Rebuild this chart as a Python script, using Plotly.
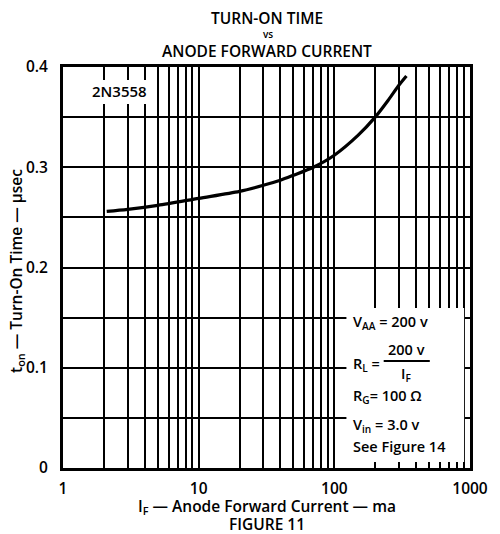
import plotly.graph_objects as go

# Data
current_ma = [2.1, 3, 5, 10, 20, 30, 40, 50, 70, 100, 150, 200, 250, 300, 340]
turn_on_us = [0.256, 0.258, 0.262, 0.269, 0.276, 0.282, 0.287, 0.292, 0.300,
              0.312, 0.332, 0.350, 0.367, 0.382, 0.391]

x_grid = [m * 10 ** d for d in range(3) for m in range(1, 10)] + [1000]
x_labels = {1: "1", 10: "10", 100: "100", 1000: "1000"}
y_grid = [0, 0.05, 0.1, 0.15, 0.2, 0.25, 0.3, 0.35, 0.4]
y_labels = {0: "0", 0.1: "0.1", 0.2: "0.2", 0.3: "0.3", 0.4: "0.4"}

FONT = "Open Sans"
INK = "black"
OFF = 8  # page body margin offset

fig = go.Figure()
fig.add_trace(go.Scatter(
    x=current_ma, y=turn_on_us, mode="lines",
    line=dict(color=INK, width=3.2, shape="spline", smoothing=0.8),
    hoverinfo="skip", showlegend=False))

W0, W1 = 63, 478
H0, H1 = 468, 67

fig.update_layout(
    width=500 - OFF, height=534 - OFF,
    margin=dict(l=W0 - OFF, r=500 - W1, t=H1 - OFF, b=534 - H0, pad=0),
    paper_bgcolor="white", plot_bgcolor="white",
    font=dict(family=FONT, color=INK, size=14),
    xaxis=dict(
        type="log", range=[0, 3],
        tickvals=x_grid,
        ticktext=[x_labels.get(v, "") for v in x_grid],
        showgrid=True, gridcolor=INK, gridwidth=2.2,
        showline=True, linecolor=INK, linewidth=3, mirror=True,
        ticks="", zeroline=False, ticklabelstandoff=4,
        tickfont=dict(family=FONT, size=15.5, weight=600),
    ),
    yaxis=dict(
        range=[0, 0.4],
        tickvals=y_grid,
        ticktext=[y_labels.get(v, "") for v in y_grid],
        showgrid=True, gridcolor=INK, gridwidth=2.2,
        showline=True, linecolor=INK, linewidth=3, mirror=True,
        ticks="", zeroline=False, ticklabelstandoff=9,
        tickfont=dict(family=FONT, size=15.5, weight=600),
    ),
)

def px(xp):
    return (xp - W0) / (W1 - W0)
def py(yp):
    return (H0 - yp) / (H0 - H1)

# White boxes that interrupt the grid (label and conditions)
fig.add_shape(type="rect", xref="paper", yref="paper",
              x0=px(90), x1=px(154), y0=py(104), y1=py(80),
              fillcolor="white", line=dict(width=0), layer="above")
fig.add_shape(type="rect", xref="paper", yref="paper",
              x0=px(352), x1=px(472), y0=py(462), y1=py(308),
              fillcolor="white", line=dict(width=0), layer="above")

def ann(text, x, y, size=14, xanchor="center", **kw):
    fig.add_annotation(text=text, x=x, y=y, xref="paper", yref="paper",
                       xanchor=xanchor, yanchor="middle", showarrow=False,
                       font=dict(family=FONT, size=size, color=INK, weight=600), **kw)

ann("TURN-ON TIME", px(271), py(18), size=15.5)
ann("vs", px(272), py(34), size=10)
ann("ANODE FORWARD CURRENT", px(271), py(51), size=15.5)
ann("I<sub>F</sub> — Anode Forward Current — ma", px(271), py(506), size=15.5)
ann("FIGURE 11", px(271), py(524), size=15.5)
ann("t<sub>on</sub> — Turn-On Time — µsec", px(15), py(271), size=15.5, textangle=-90)

ann("2N3558", px(121), py(91), size=15)

ann("V<sub>AA</sub> = 200 v", px(357), py(322), size=14.5, xanchor="left")
ann("R<sub>L</sub> =", px(357), py(364), size=14.5, xanchor="left")
ann("200 v", px(413), py(349), size=14.5)
ann("I<sub>F</sub>", px(413), py(374), size=14.5)
fig.add_shape(type="line", xref="paper", yref="paper",
              x0=px(390), x1=px(437), y0=py(361), y1=py(361),
              line=dict(color=INK, width=2))
ann("R<sub>G</sub>= 100 Ω", px(357), py(396), size=14.5, xanchor="left")
ann("V<sub>in</sub> = 3.0 v", px(357), py(425), size=14.5, xanchor="left")
ann("See Figure 14", px(357), py(446), size=14.5, xanchor="left")

fig.write_html("out.html")
